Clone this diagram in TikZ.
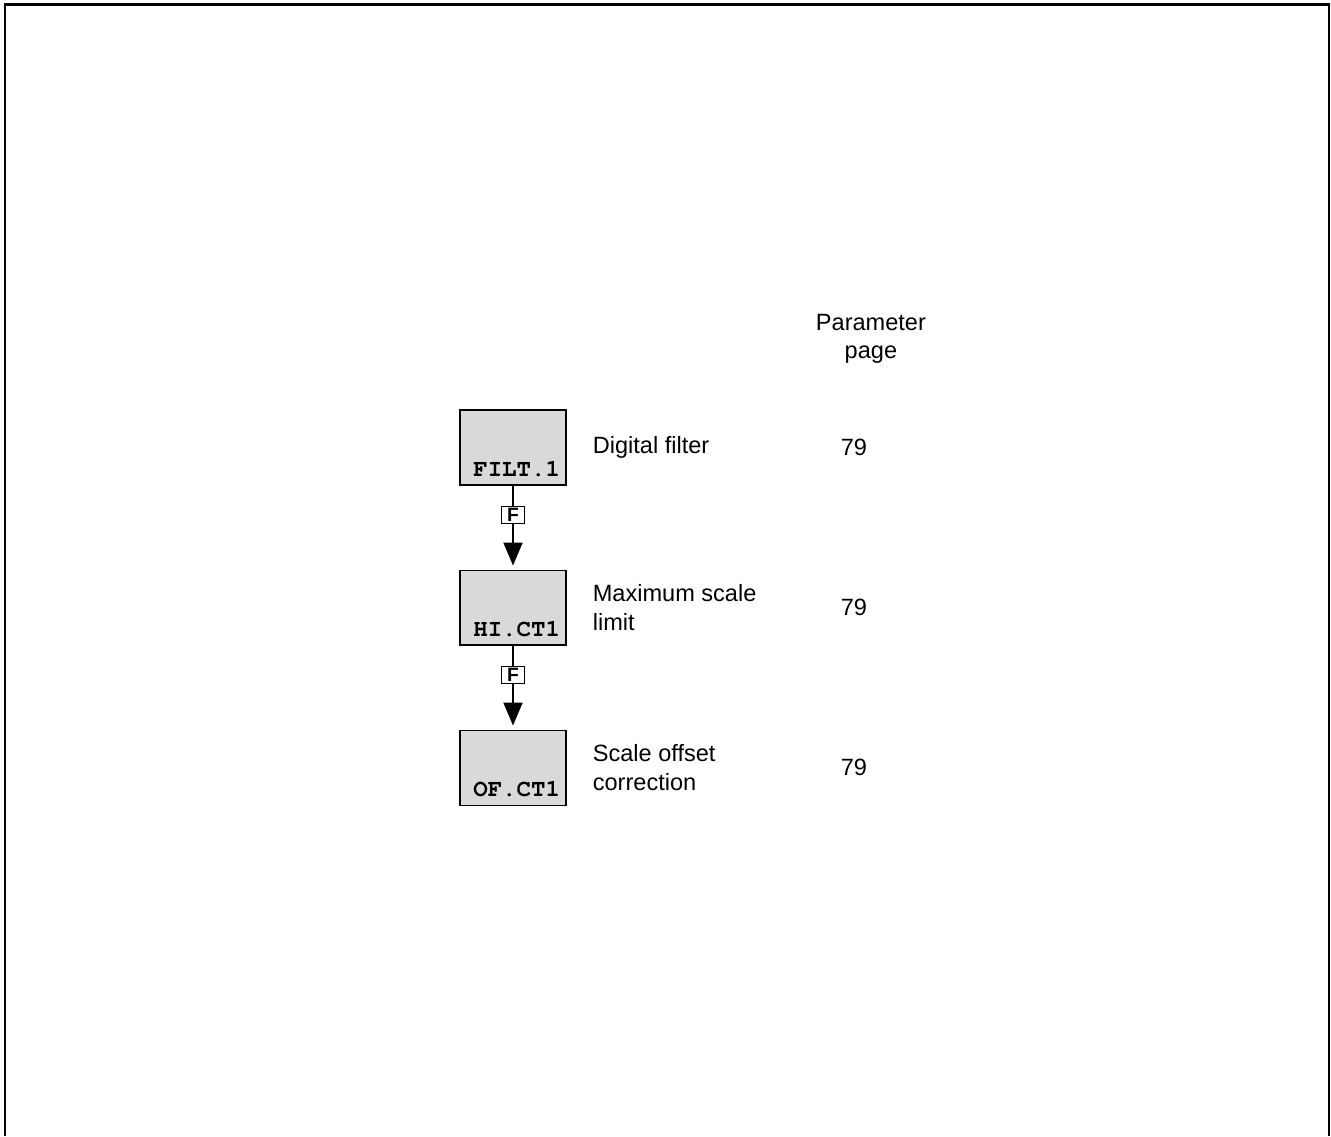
\documentclass[tikz,border=0pt]{standalone}
\usepackage{fontspec}
\setmainfont{Liberation Sans}
\newfontfamily\codefont{TeX Gyre Cursor}
\usetikzlibrary{arrows.meta,positioning}
\tikzset{
  disp/.style={rectangle, draw, line width=0.6pt, fill=black!15, align=right,
               text width=1.88cm, inner xsep=0.12cm, inner ysep=0pt,
               text height=1.32cm, text depth=0.18cm,
               font=\codefont\bfseries\fontsize{13.7}{16}\selectfont},
  desc/.style={align=left, inner sep=0pt, font=\fontsize{13.4}{16.2}\selectfont},
  pg/.style={inner sep=0pt, font=\fontsize{13.4}{16.2}\selectfont},
  hdr/.style={align=center, inner sep=0pt, font=\fontsize{13.4}{16.2}\selectfont},
  fkey/.style={rectangle, draw, line width=0.5pt, fill=white, inner sep=0pt,
               minimum width=0.46cm, minimum height=0.34cm,
               font=\bfseries\fontsize{11}{11}\selectfont},
  fl/.style={-{Triangle[length=0.46cm, width=0.38cm]}, line width=0.04cm,
             shorten >=0.08cm},
  frame/.style={line width=0.05cm},
}
\begin{document}
\begin{tikzpicture}[x=0.02cm, y=0.02cm]
\useasboundingbox (0,0) rectangle (1331,-1136);
\draw[frame] (5,-1136) |- (1329,-4.5) -- (1329,-1136);
\node[disp] (filt) at (513,-447.5) {FILT.1};
\node[disp, below=1.68cm of filt] (hict) {HI.CT1};
\node[disp, below=1.68cm of hict] (ofct) {OF.CT1};
\node[desc, right=0.52cm of filt] (dfilt) {Digital filter};
\node[desc, right=0.52cm of hict] (dhict) {Maximum scale\\limit};
\node[desc, right=0.52cm of ofct] (dofct) {Scale offset\\correction};
\node[pg, right=5.48cm of filt] (pgfilt) {79};
\node[pg, right=5.48cm of hict] (pghict) {79};
\node[pg, right=5.48cm of ofct] (pgofct) {79};
\node[hdr, above=1.5cm of pgfilt, xshift=0.34cm] (head) {Parameter\\page};
\draw[fl] (filt) -- node[fkey, pos=0.35] {F} (hict);
\draw[fl] (hict) -- node[fkey, pos=0.35] {F} (ofct);
\end{tikzpicture}
\end{document}
